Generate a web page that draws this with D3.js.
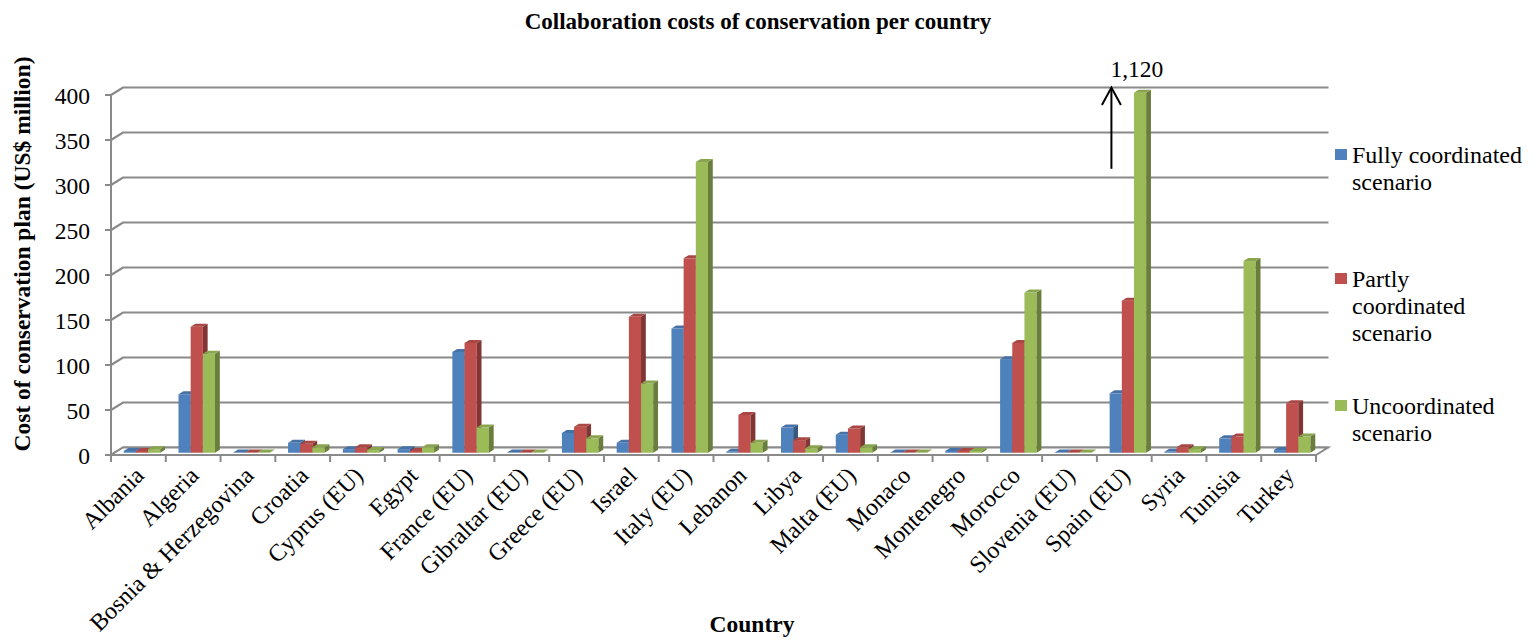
<!DOCTYPE html>
<html>
<head>
<meta charset="utf-8">
<script src="https://cdn.jsdelivr.net/npm/d3@7"></script>
<style>
  html, body { margin: 0; padding: 0; background: #ffffff; }
  svg { display: block; }
  text { font-family: "Liberation Serif", "Times New Roman", serif; fill: #000; }
</style>
</head>
<body>
<svg id="chart" width="1539" height="644"></svg>
<script>
// ---- data ----
const categories = ["Albania", "Algeria", "Bosnia & Herzegovina", "Croatia", "Cyprus (EU)", "Egypt",
  "France (EU)", "Gibraltar (EU)", "Greece (EU)", "Israel", "Italy (EU)", "Lebanon", "Libya",
  "Malta (EU)", "Monaco", "Montenegro", "Morocco", "Slovenia (EU)", "Spain (EU)", "Syria",
  "Tunisia", "Turkey"];
const seriesNames = ["Fully coordinated scenario", "Partly coordinated scenario", "Uncoordinated scenario"];
const legendLines = [["Fully coordinated", "scenario"], ["Partly", "coordinated", "scenario"], ["Uncoordinated", "scenario"]];
const fullyCoordinated = [2, 65, 0.3, 11, 4, 4, 112, 0.3, 22, 11, 138, 1, 28, 20, 0.3, 2, 104, 0.3, 66, 1, 16, 3];
const partlyCoordinated = [2, 140, 0.3, 10, 6, 2, 122, 0.3, 29, 151, 216, 42, 14, 27, 0.3, 2, 122, 0.3, 169, 6, 18, 55];
const uncoordinated = [4, 110, 0.3, 6, 3, 6, 28, 0.3, 16, 77, 323, 11, 5, 6, 0.3, 2, 178, 0.3, 1120, 4, 213, 18];
const yTicks = [0, 50, 100, 150, 200, 250, 300, 350, 400];
const seriesColors = ["#4F81BD", "#C0504D", "#9BBB59"];
const offScaleNote = { category: "Spain (EU)", label: "1,120" };

const seriesValues = [fullyCoordinated, partlyCoordinated, uncoordinated];

// ---- layout ----
const svg = d3.select("#chart");
const left = 111, right = 1316;
const depth = { dx: 12, dy: -7.5 };             // full depth of the 3-D floor
const barFront = 0.3, barBack = 0.7;            // bar position within depth
const gridStroke = "#8a8a8a";

const x = d3.scaleBand().domain(categories).range([left, right]).paddingInner(0).paddingOuter(0);
const xs = d3.scaleBand().domain(seriesNames).range([0, x.bandwidth()]).paddingInner(0).paddingOuter(0.75);
const y = d3.scaleLinear().domain([0, 400]).range([455, 95]).clamp(true);

// ---- back wall gridlines (with the short side-wall segment) ----
const gridG = svg.append("g");
yTicks.forEach(t => {
  const y0 = y(t);
  gridG.append("path")
    .attr("d", d3.line()([[left, y0], [left + depth.dx, y0 + depth.dy], [right + depth.dx + 0.5, y0 + depth.dy]]))
    .attr("fill", "none").attr("stroke", gridStroke).attr("stroke-width", 2.2);
});

// ---- floor ----
svg.append("path")
  .attr("d", d3.line()([[left, y(0)], [right, y(0)], [right + depth.dx, y(0) + depth.dy], [left + depth.dx, y(0) + depth.dy]]) + "Z")
  .attr("fill", "#ffffff").attr("stroke", gridStroke).attr("stroke-width", 2);

// ---- value axis ----
const axisG = svg.append("g");
axisG.append("line")
  .attr("x1", left).attr("x2", left).attr("y1", y(400)).attr("y2", y(0) + 6)
  .attr("stroke", gridStroke).attr("stroke-width", 2);
yTicks.forEach(t => {
  axisG.append("line")
    .attr("x1", left - 6).attr("x2", left).attr("y1", y(t)).attr("y2", y(t))
    .attr("stroke", gridStroke).attr("stroke-width", 2);
  axisG.append("text")
    .attr("x", 90).attr("y", y(t) + 9)
    .attr("text-anchor", "end").attr("font-size", "23.5px")
    .text(d3.format(",")(t));
});

// ---- category axis ticks ----
const catG = svg.append("g");
const boundaries = categories.map(c => x(c)).concat([right]);
boundaries.forEach(bx => {
  catG.append("line")
    .attr("x1", bx).attr("x2", bx).attr("y1", y(0)).attr("y2", y(0) + 7)
    .attr("stroke", gridStroke).attr("stroke-width", 2);
});
categories.forEach(c => {
  const cx = x(c) + x.bandwidth() / 2;
  catG.append("text")
    .attr("transform", `translate(${cx + 7},${y(0) + 22}) rotate(-45)`)
    .attr("text-anchor", "end").attr("font-size", "24px")
    .text(c);
});

// ---- 3-D columns ----
const sx = (barBack - barFront) * depth.dx, sy = (barBack - barFront) * depth.dy;
const ox = barFront * depth.dx, oy = barFront * depth.dy;
const barsG = svg.append("g");
categories.forEach((c, i) => {
  seriesNames.forEach((s, k) => {
    const v = seriesValues[k][i];
    const w = xs.bandwidth();
    const bx = x(c) + xs(s) + ox;
    const yb = y(0) + oy;
    const yt = y(v) + oy;
    const base = d3.color(seriesColors[k]);
    const g = barsG.append("g");
    g.append("rect").attr("x", bx).attr("y", yt).attr("width", w).attr("height", Math.max(0, yb - yt))
      .attr("fill", base.formatHex());
    g.append("path")
      .attr("d", d3.line()([[bx + w, yt], [bx + w + sx, yt + sy], [bx + w + sx, yb + sy], [bx + w, yb]]) + "Z")
      .attr("fill", base.darker(1.1).formatHex());
    g.append("path")
      .attr("d", d3.line()([[bx, yt], [bx + sx, yt + sy], [bx + w + sx, yt + sy], [bx + w, yt]]) + "Z")
      .attr("fill", base.darker(0.35).formatHex());
  });
});

// ---- off-scale annotation ----
const ax = x(offScaleNote.category) + 14.5;
const annG = svg.append("g");
annG.append("line")
  .attr("x1", ax).attr("x2", ax).attr("y1", y(318)).attr("y2", y(400) - 7)
  .attr("stroke", "#000").attr("stroke-width", 2);
annG.append("path")
  .attr("d", d3.line()([[ax - 9.5, y(400) + 10], [ax, y(400) - 7.5], [ax + 9.5, y(400) + 10]]))
  .attr("fill", "none").attr("stroke", "#000").attr("stroke-width", 2);
annG.append("text")
  .attr("x", ax - 1).attr("y", 77)
  .attr("font-size", "23.5px")
  .text(offScaleNote.label);

// ---- legend ----
const legendY = [155, 279, 406];
const legG = svg.append("g");
seriesNames.forEach((s, k) => {
  legG.append("rect")
    .attr("x", 1335).attr("y", legendY[k] - 6).attr("width", 12).attr("height", 11)
    .attr("fill", seriesColors[k]);
  legendLines[k].forEach((line, j) => {
    legG.append("text")
      .attr("x", 1352).attr("y", legendY[k] + 8 + j * 27)
      .attr("font-size", "24px")
      .text(line);
  });
});

// ---- titles ----
svg.append("text")
  .attr("x", 758).attr("y", 29)
  .attr("text-anchor", "middle").attr("font-size", "23px").attr("font-weight", "bold")
  .text("Collaboration costs of conservation per country");
svg.append("text")
  .attr("transform", "translate(30,254) rotate(-90)")
  .attr("text-anchor", "middle").attr("font-size", "23.5px").attr("font-weight", "bold")
  .text("Cost of conservation plan (US$ million)");
svg.append("text")
  .attr("x", 752).attr("y", 632)
  .attr("text-anchor", "middle").attr("font-size", "23.5px").attr("font-weight", "bold")
  .text("Country");
</script>
</body>
</html>
